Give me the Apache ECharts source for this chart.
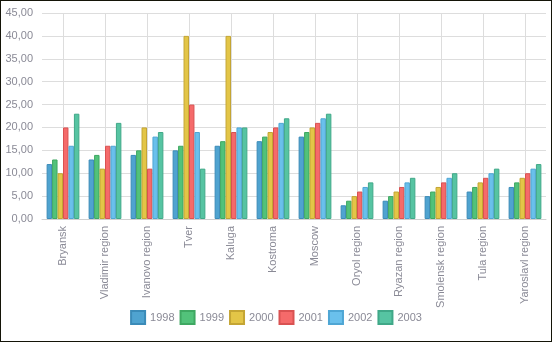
<!DOCTYPE html>
<html><head><meta charset="utf-8">
<script src="https://cdn.jsdelivr.net/npm/echarts@6/dist/echarts.min.js"></script>
<style>
html,body{margin:0;padding:0;background:#fff;}
#c{width:552px;height:342px;box-sizing:border-box;border:1px solid #141408;}
</style></head>
<body><div id="c"></div>
<script>
const categories = ['Bryansk','Vladimir region','Ivanovo region','Tver','Kaluga','Kostroma','Moscow','Oryol region','Ryazan region','Smolensk region','Tula region','Yaroslavl region'];
const years = ['1998','1999','2000','2001','2002','2003'];
const v1998 = [12,13,14,15,16,17,18,3,4,5,6,7];
const v1999 = [13,14,15,16,17,18,19,4,5,6,7,8];
const v2000 = [10,11,20,40,40,19,20,5,6,7,8,9];
const v2001 = [20,16,11,25,19,20,21,6,7,8,9,10];
const v2002 = [16,16,18,19,20,21,22,7,8,9,10,11];
const v2003 = [23,21,19,11,20,22,23,8,9,10,11,12];
const yTicks = {min:0, max:45, interval:5};

const values = [v1998,v1999,v2000,v2001,v2002,v2003];
const fills = ['#4fa3d0','#52c27a','#e3c547','#f56a6a','#6ac0ec','#56c4a2'];
const borders = ['#3b8bb8','#3fa862','#c4a534','#d95252','#4fa6d4','#40a888'];

const chart = echarts.init(document.getElementById('c'));
const helperData = Array.from({length: categories.length*2+1}, (_, i) => String(i));
chart.setOption({
  animation:false,
  textStyle:{fontFamily:'Liberation Sans, Arial, sans-serif'},
  grid:{left:41,right:5,top:12,bottom:122},
  legend:{
    data:years, bottom:11, left:'center', itemWidth:14, itemHeight:13, itemGap:5,
    icon:'rect',
    textStyle:{color:'#8a8a96',fontSize:11,fontFamily:'Liberation Sans, Arial, sans-serif'}
  },
  xAxis:[{
    type:'category', data:categories, boundaryGap:true,
    axisLine:{show:true,lineStyle:{color:'#d0d0d0'}},
    axisTick:{show:false},
    splitLine:{show:false},
    axisLabel:{rotate:90, interval:0, color:'#8a8a96', fontSize:11, margin:7}
  },{
    type:'category', data:helperData, boundaryGap:false, position:'bottom',
    axisLine:{show:false}, axisTick:{show:false}, axisLabel:{show:false},
    splitLine:{show:true, interval:(i)=> i%2===1, lineStyle:{color:'#dddddd'}}
  }],
  yAxis:{
    type:'value', min:yTicks.min, max:yTicks.max, interval:yTicks.interval,
    axisLine:{show:false}, axisTick:{show:false},
    splitLine:{lineStyle:{color:'#dddddd'}},
    axisLabel:{color:'#8a8a96', fontSize:11, margin:9, formatter:(v)=>v.toFixed(2).replace('.',',')}
  },
  series: years.map((y,i)=>({
    name:y, type:'bar', xAxisIndex:0, data:values[i],
    barGap:'0%', barCategoryGap:'22%',
    itemStyle:{color:fills[i], borderColor:borders[i], borderWidth:1}
  }))
});
</script></body></html>
